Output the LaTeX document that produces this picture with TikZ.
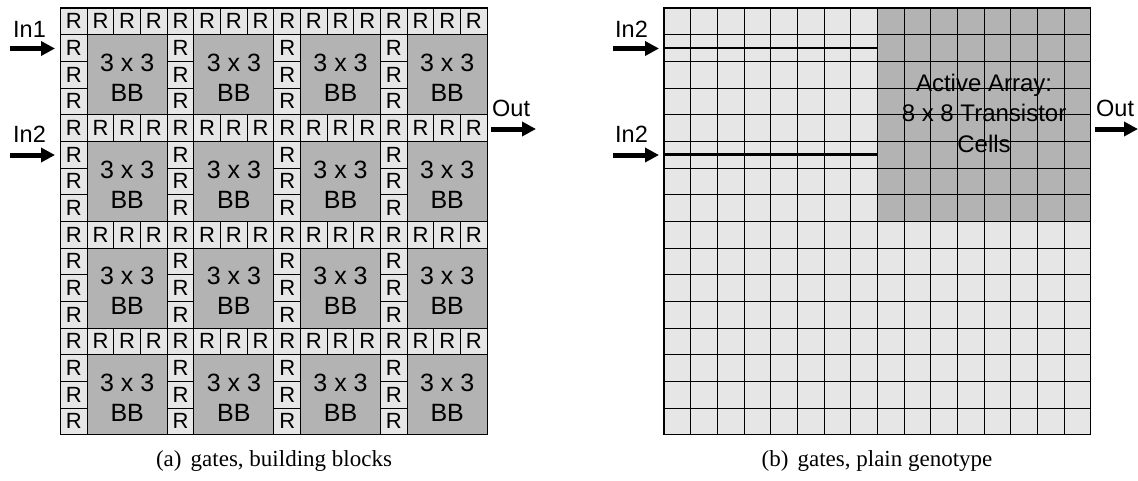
\documentclass[tikz,border=0pt]{standalone}
\usepackage{fontspec}
\setmainfont{Liberation Sans}
\newfontfamily\capfont{Liberation Serif}
\usetikzlibrary{arrows.meta}
\definecolor{lightc}{HTML}{E6E6E6}
\definecolor{darkc}{HTML}{B3B3B3}
\begin{document}
\begin{tikzpicture}[x=1pt,y=-1pt,
  rcell/.style={draw=black,line width=1pt,fill=lightc,minimum width=26.67pt,minimum height=26.67pt,inner sep=0pt,font=\fontsize{22}{22}\selectfont},
  bbcell/.style={draw=black,line width=1pt,fill=darkc,minimum width=80pt,minimum height=80pt,inner sep=0pt},
  bbtext/.style={align=center,inner sep=0pt,font=\fontsize{25}{30}\selectfont},
  lbl/.style={anchor=base west,inner sep=0pt,font=\fontsize{23.5}{23.5}\selectfont},
  bigarrow/.style={line width=5pt,-{Triangle[length=14pt,width=14pt]}},
  gline/.style={line width=1pt,draw=black},
  wire/.style={line width=2.4pt,draw=black},
  captext/.style={anchor=base,inner sep=0pt,font=\capfont\fontsize{23}{23}\selectfont}]
\useasboundingbox (0,0) rectangle (1138,480);
\def\c{26.67}
\newcommand\rlet{\raisebox{-1.5pt}{R}}
% ---------- (a) building blocks ----------
\foreach \bi in {0,...,3}{
  \foreach \bj in {0,...,3}{
    \foreach \k in {0,...,3}{
      \node[rcell] (rt-\bi-\bj-\k) at ({60.5+(4*\bi+\k+0.5)*\c},{8+(4*\bj+0.5)*\c}) {\rlet};
    }
    \foreach \k in {1,...,3}{
      \node[rcell] (rl-\bi-\bj-\k) at ({60.5+(4*\bi+0.5)*\c},{8+(4*\bj+\k+0.5)*\c}) {\rlet};
    }
    \node[bbcell] (bb-\bi-\bj) at ({60.5+(4*\bi+2.5)*\c},{8+(4*\bj+2.5)*\c}) {};
    \node[bbtext] (bbt-\bi-\bj) at ([yshift=-3pt]bb-\bi-\bj.center) {3 x 3\\BB};
  }
}
\draw[line width=1.3pt] (60.5,8) rectangle ({60.5+16*\c},{8+16*\c});
\node[lbl] (in1a) at (13,37) {In1};
\node[lbl] (in2a) at (13,142) {In2};
\node[lbl] (outa) at (492,116) {Out};
\coordinate (in1as) at (10,48.5);
\coordinate (in1ae) at (55,48.5);
\coordinate (in2as) at (10,155);
\coordinate (in2ae) at (55,155);
\coordinate (outas) at (491,129);
\coordinate (outae) at (536,129);
\draw[bigarrow] (in1as) -- (in1ae);
\draw[bigarrow] (in2as) -- (in2ae);
\draw[bigarrow] (outas) -- (outae);
\node[captext] (capa) at (274,466) {(a)\hspace{0.4em}gates, building blocks};
% ---------- (b) plain genotype ----------
\fill[lightc] (664,8) rectangle ({664+16*\c},{8+16*\c});
\fill[darkc] ({664+8*\c},8) rectangle ({664+16*\c},{8+8*\c});
\foreach \i in {0,...,16}{
  \draw[gline] ({664+\i*\c},8) -- ({664+\i*\c},{8+16*\c});
  \draw[gline] (664,{8+\i*\c}) -- ({664+16*\c},{8+\i*\c});
}
\draw[line width=1.3pt] (664,8) rectangle ({664+16*\c},{8+16*\c});
\coordinate (w1s) at (664,{8+1.5*\c});
\coordinate (w1e) at ({664+8*\c},{8+1.5*\c});
\coordinate (w2s) at (664,{8+5.5*\c});
\coordinate (w2e) at ({664+8*\c},{8+5.5*\c});
\draw[wire] (w1s) -- (w1e);
\draw[wire] (w2s) -- (w2e);
\node[align=center,inner sep=0pt,font=\fontsize{24}{30.5}\selectfont] (active) at ({664+12*\c},113) {Active Array:\\8 x 8 Transistor\\Cells};
\node[lbl] (in2b) at (615,37) {In2};
\node[lbl] (in2c) at (615,142) {In2};
\node[lbl] (outb) at (1096,116) {Out};
\coordinate (in2bs) at (613,48.5);
\coordinate (in2be) at (659,48.5);
\coordinate (in2cs) at (613,155);
\coordinate (in2ce) at (659,155);
\coordinate (outbs) at (1095,129);
\coordinate (outbe) at (1138,129);
\draw[bigarrow] (in2bs) -- (in2be);
\draw[bigarrow] (in2cs) -- (in2ce);
\draw[bigarrow] (outbs) -- (outbe);
\node[captext] (capb) at (877,466) {(b)\hspace{0.4em}gates, plain genotype};
\end{tikzpicture}
\end{document}
